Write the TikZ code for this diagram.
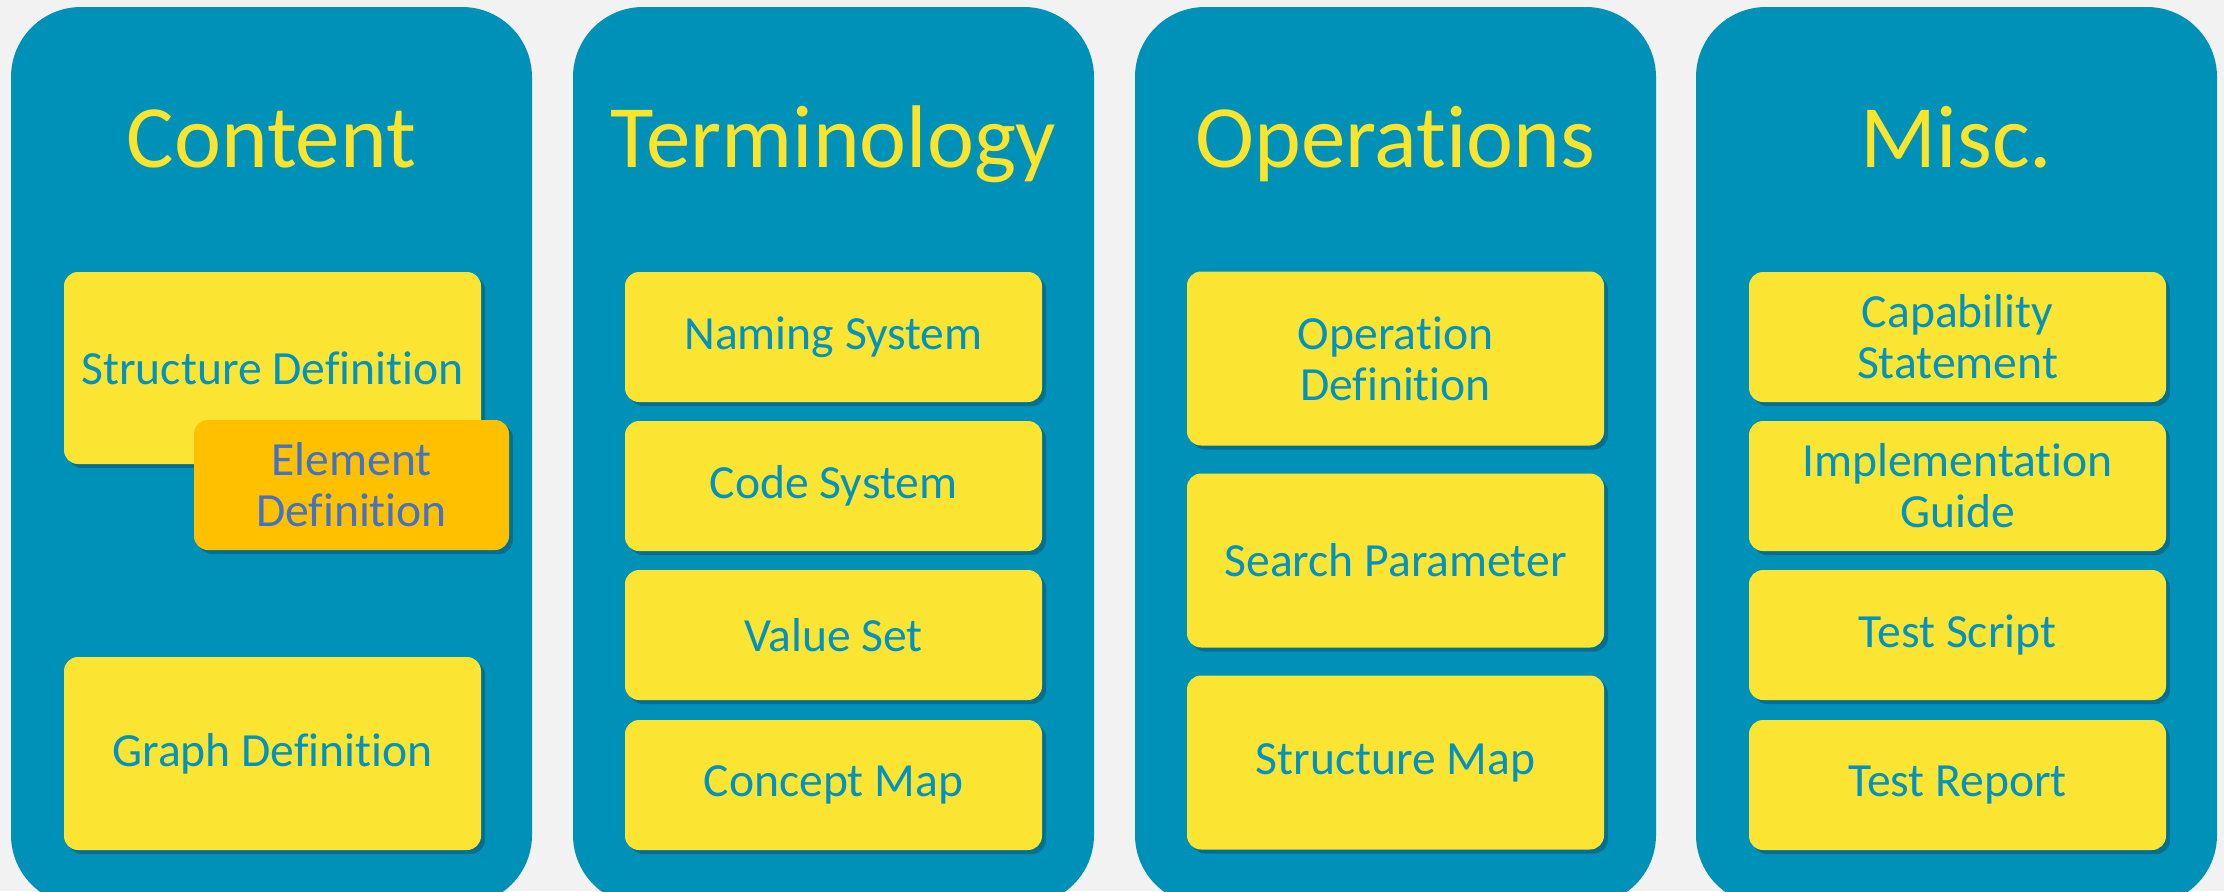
\documentclass[tikz,border=0pt]{standalone}
\usepackage{fontspec}
\setmainfont{Carlito}[RawFeature={-liga;-clig;-dlig}]
\usetikzlibrary{shadows}
\definecolor{bgc}{RGB}{242,242,242}
\definecolor{panelc}{RGB}{0,145,185}
\definecolor{yelc}{RGB}{252,228,50}
\definecolor{orgc}{RGB}{255,192,0}
\definecolor{titc}{RGB}{252,228,44}
\definecolor{boxtxt}{RGB}{0,146,192}
\definecolor{eltxt}{RGB}{68,114,196}
\definecolor{shc}{RGB}{0,50,70}
\tikzset{
  panel/.style={fill=panelc, rounded corners=35pt, minimum width=260.5pt, minimum height=449pt, inner sep=0pt},
  ptitle/.style={text=titc, font=\fontsize{44.5pt}{50pt}\selectfont, anchor=base, inner sep=0pt},
  ybox/.style={fill=yelc, rounded corners=7pt, minimum width=208.5pt, inner sep=0pt, text=boxtxt,
    font=\fontsize{23.8pt}{25.5pt}\selectfont, align=center,
    drop shadow={shadow xshift=2pt, shadow yshift=-2pt, opacity=0.35, fill=shc}},
  obox/.style={ybox, fill=orgc, text=eltxt, minimum width=157.5pt, minimum height=65pt},
}
\begin{document}
\begin{tikzpicture}[x=0.5pt, y=-0.5pt]
\fill[bgc] (0,0) rectangle (2224,891);
\useasboundingbox (0,0) rectangle (2224,891);
\begin{scope}
\clip (0,0) rectangle (2224,891);
% panels
\node[panel] (p1) at (271.5,456) {};
\node[panel] (p2) at (833.5,456) {};
\node[panel] (p3) at (1395.5,456) {};
\node[panel] (p4) at (1956.5,456) {};
% titles
\node[ptitle] (t1) at (271.5,167) {Content};
\node[ptitle] (t2) at (833.5,167) {Terminology};
\node[ptitle] (t3) at (1395.5,167) {Operations};
\node[ptitle] (t4) at (1956.5,167) {Misc.};
% content
\node[ybox, minimum height=96pt] (sd) at (272.5,368) {Structure Definition};
\node[obox] (ed) at (351.5,485) {Element\\Definition};
\node[ybox, minimum height=96.5pt] (gd) at (272.5,753.5) {Graph Definition};
% terminology
\node[ybox, minimum height=65pt] (ns) at (833.5,337) {Naming System};
\node[ybox, minimum height=65pt] (cs) at (833.5,486) {Code System};
\node[ybox, minimum height=65pt] (vs) at (833.5,635) {Value Set};
\node[ybox, minimum height=65pt] (cm) at (833.5,785) {Concept Map};
% operations
\node[ybox, minimum height=87pt] (od) at (1395.5,358.5) {Operation\\Definition};
\node[ybox, minimum height=87pt] (sp) at (1395.5,560.5) {Search Parameter};
\node[ybox, minimum height=87pt] (sm) at (1395.5,762.5) {Structure Map};
% misc
\node[ybox, minimum height=65pt] (cps) at (1957.5,337) {Capability\\Statement};
\node[ybox, minimum height=65pt] (ig) at (1957.5,486) {Implementation\\Guide};
\node[ybox, minimum height=65pt] (ts) at (1957.5,635) {Test Script};
\node[ybox, minimum height=65pt] (tr) at (1957.5,785) {Test Report};
\end{scope}
\end{tikzpicture}
\end{document}
